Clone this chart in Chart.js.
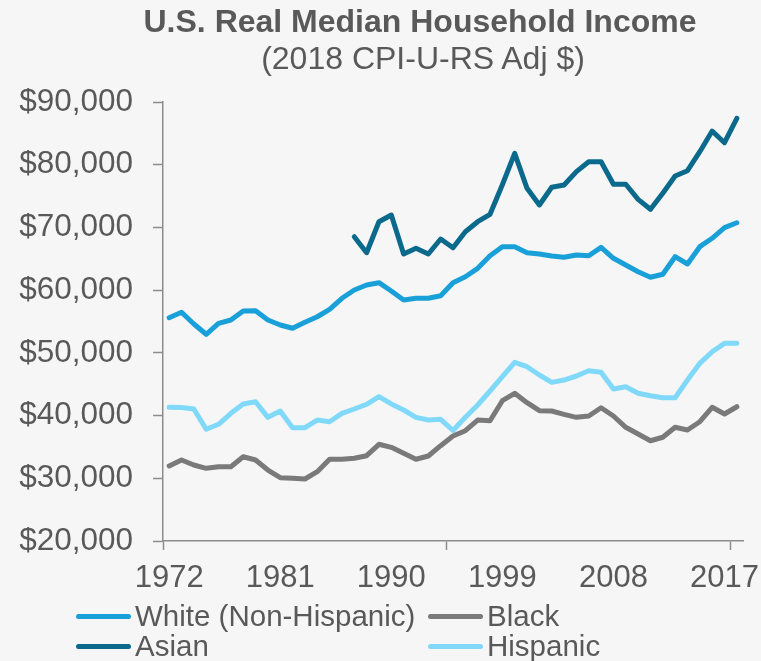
<!DOCTYPE html>
<html>
<head>
<meta charset="utf-8">
<script src="https://cdn.jsdelivr.net/npm/chart.js@4"></script>
<style>
  body { margin: 0; background: #f6f6f6; font-family: "Liberation Sans", Arial, sans-serif; color: #595959; }
  #wrap { position: relative; width: 761px; height: 661px; }
  canvas { position: absolute; left: 0; top: 0; }
  .ttl { position: absolute; left: 0; width: 840px; text-align: center; font-size: 32px; line-height: 32px; white-space: nowrap; }
  #title { top: 5px; font-weight: bold; }
  #subtitle { top: 42px; width: 846px; }
  #legend { position: absolute; left: 76px; top: 601px; display: grid; grid-template-columns: 352px auto; row-gap: 0; }
  .item { display: flex; align-items: center; height: 30px; font-size: 29.5px; line-height: 30px; white-space: nowrap; }
  .swatch { width: 55px; height: 5px; border-radius: 3px; margin-right: 4px; }
</style>
</head>
<body>
<div id="wrap">
  <canvas id="c" width="761" height="661"></canvas>
  <div id="title" class="ttl">U.S. Real Median Household Income</div>
  <div id="subtitle" class="ttl">(2018 CPI-U-RS Adj $)</div>
  <div id="legend"></div>
</div>
<script>
const $ = id => document.getElementById(id);

const years = [];
for (let y = 1972; y <= 2018; y++) years.push(y);

const labelYears = [1972, 1981, 1990, 1999, 2008, 2017];
const xTickMarks = [1971.5, 1994.5, 2017.5];

const white = [55600, 56470, 54600, 52960, 54710, 55240, 56670, 56700, 55240, 54440,
  53920, 54870, 55760, 56940, 58700, 60020, 60820, 61190, 59860, 58430,
  58700, 58700, 59110, 61190, 62140, 63480, 65490, 66930, 66930, 65970,
  65760, 65440, 65240, 65600, 65490, 66830, 65080, 64010, 62940, 62050,
  62530, 65330, 64170, 66930, 68270, 69960, 70750];

const black = [31960, 32920, 32120, 31590, 31850, 31850, 33440, 32920, 31320, 30090,
  30000, 29890, 31050, 33030, 33030, 33190, 33600, 35420, 34940, 33980,
  33030, 33550, 35200, 36740, 37590, 39290, 39180, 42370, 43550, 42050,
  40780, 40730, 40200, 39720, 39930, 41250, 39930, 38130, 37060, 35990,
  36540, 38130, 37700, 39020, 41320, 40250, 41410];

// Asian series starts in 1987
const asian = [null, null, null, null, null, null, null, null, null, null,
  null, null, null, null, null, 68520, 65970, 70910, 71980, 65760,
  66670, 65760, 68150, 66750, 69320, 70910, 72090, 76800, 81820, 76240,
  73580, 76400, 76760, 78890, 80480, 80480, 76880, 76880, 74480, 72890,
  75440, 78200, 79040, 82070, 85370, 83510, 87400];

const hispanic = [41320, 41300, 41050, 37810, 38610, 40360, 41850, 42210, 39720, 40730,
  38070, 38070, 39290, 39020, 40360, 41050, 41800, 43010, 41850, 40890,
  39720, 39290, 39400, 37620, 39720, 41690, 43920, 46200, 48490, 47790,
  46470, 45300, 45670, 46310, 47150, 46900, 44240, 44600, 43550, 43170,
  42850, 42850, 45670, 48330, 50180, 51520, 51520];

const yTicks = [20000, 30000, 40000, 50000, 60000, 70000, 80000, 90000];

const series = [
  { label: "White (Non-Hispanic)", values: white, color: "#1aa0d9" },
  { label: "Black", values: black, color: "#7a7a7a" },
  { label: "Asian", values: asian, color: "#0b6a8b" },
  { label: "Hispanic", values: hispanic, color: "#80d9f8" },
];

Chart.defaults.font.family = '"Liberation Sans", Arial, sans-serif';
Chart.defaults.color = "#595959";

const AXIS = "#8c8c8c";

new Chart($("c"), {
  type: "line",
  data: {
    datasets: series.map(s => ({
      label: s.label,
      data: years.map((yr, i) => ({ x: yr, y: s.values[i] })),
      borderColor: s.color,
      backgroundColor: s.color,
      borderWidth: 5,
      borderCapStyle: "round",
      borderJoinStyle: "round",
      pointRadius: 0,
      tension: 0,
      spanGaps: false,
    })),
  },
  options: {
    responsive: false,
    animation: false,
    devicePixelRatio: 1,
    layout: { padding: { top: 102, right: 18, left: 0, bottom: 0 } },
    plugins: { legend: { display: false }, title: { display: false }, tooltip: { enabled: false } },
    scales: {
      x: {
        type: "linear",
        min: 1971.5,
        max: 2018.5,
        afterBuildTicks: axis => {
          axis.ticks = [...labelYears, ...xTickMarks].sort((a, b) => a - b).map(v => ({ value: v }));
        },
        afterFit: axis => { axis.height = 120; },
        border: { display: true, color: AXIS, width: 1.5 },
        grid: {
          drawOnChartArea: false,
          drawTicks: true,
          tickLength: 9,
          tickWidth: 1.5,
          tickColor: ctx => (ctx.tick && xTickMarks.includes(ctx.tick.value)) ? AXIS : "rgba(0,0,0,0)",
        },
        ticks: {
          autoSkip: false,
          maxRotation: 0,
          padding: 10,
          font: { size: 31 },
          callback: v => labelYears.includes(v) ? String(v) : "",
        },
      },
      y: {
        min: 20000,
        max: 90000,
        afterBuildTicks: axis => { axis.ticks = yTicks.map(v => ({ value: v })); },
        afterFit: axis => { axis.width = 163; },
        border: { display: true, color: AXIS, width: 1.5 },
        grid: { drawOnChartArea: false, drawTicks: true, tickLength: 10, tickWidth: 1.5, tickColor: AXIS },
        ticks: {
          padding: 20,
          font: { size: 31.5 },
          callback: v => "$" + v.toLocaleString("en-US"),
        },
      },
    },
  },
});

// legend: two columns, White/Black on the first row, Asian/Hispanic on the second
const leg = $("legend");
for (const s of series) {
  const it = document.createElement("div");
  it.className = "item";
  it.innerHTML = `<span class="swatch" style="background:${s.color}"></span><span>${s.label}</span>`;
  leg.appendChild(it);
}
</script>
</body>
</html>
